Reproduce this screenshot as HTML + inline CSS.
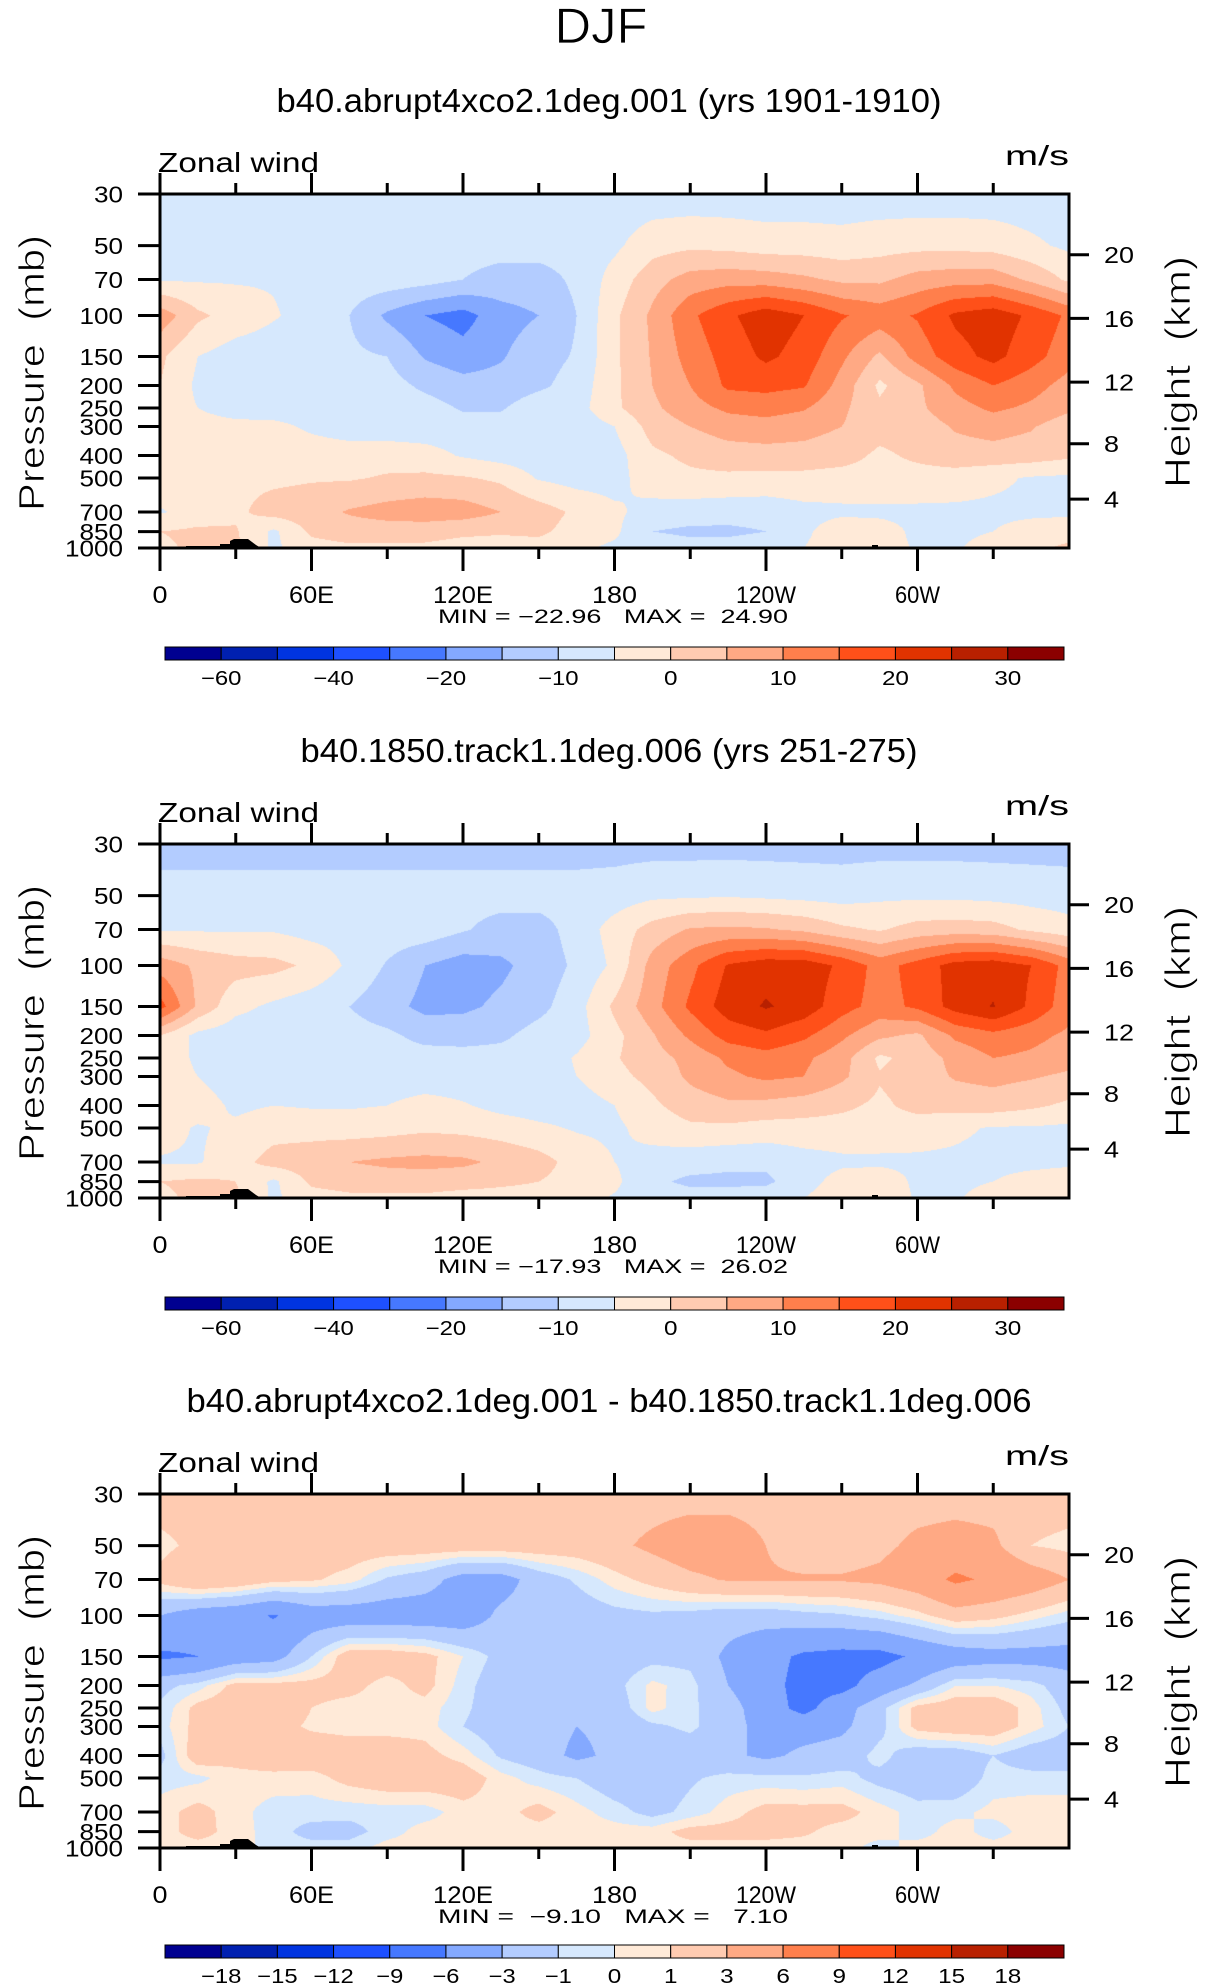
<!DOCTYPE html>
<html><head><meta charset="utf-8"><title>DJF Zonal wind</title>
<style>
html,body{margin:0;padding:0;background:#fff;}
#page{position:relative;width:1206px;height:1987px;overflow:hidden;background:#fff;}
canvas{position:absolute;}
svg{position:absolute;left:0;top:0;}
text{font-family:"Liberation Sans",sans-serif;fill:#000;white-space:pre;}
.thin{stroke:#fff;stroke-width:0.8px;paint-order:normal;}
</style></head>
<body>
<div id="page">
<svg id="ov" width="1206" height="1987">
 <text class="thin" x="601" y="43" font-size="50" text-anchor="middle" textLength="93" lengthAdjust="spacingAndGlyphs">DJF</text>
</svg>
</div>
<script>
// ---------- data ----------
const lonPoints=[0,15,30,45,60,75,90,105,120,135,150,165,180,195,210,225,240,255,270,285,300,315,330,345,360];
const pressureLevels=[30,50,70,100,150,200,250,300,400,500,700,850,1000];
const pressureTicks=[30,50,70,100,150,200,250,300,400,500,700,850,1000];
const heightTicks=[4,8,12,16,20];
const lonTicks=[0,30,60,90,120,150,180,210,240,270,300,330];
const lonLabels=['0','','60E','','120E','','180','','120W','','60W',''];
const fullLevels=[-60,-50,-40,-30,-20,-15,-10,-5,0,5,10,15,20,25,30];
const diffLevels=[-18,-15,-12,-9,-6,-3,-1,0,1,3,6,9,12,15,18];
const fullLabelIdx=[0,2,4,6,8,10,12,14];
const diffLabelIdx=[0,1,2,3,4,5,6,7,8,9,10,11,12,13,14];
const fillColors=['#000090','#0020B0','#0034E0','#1E50FF','#4678FF','#84A9FF','#B3CCFF','#D6E8FD','#FFEAD8','#FFCBB1','#FFA984','#FF7F4C','#FF5019','#E13300','#B82000','#8B0000'];
const panelTitles=['b40.abrupt4xco2.1deg.001 (yrs 1901-1910)','b40.1850.track1.1deg.006 (yrs 251-275)','b40.abrupt4xco2.1deg.001 - b40.1850.track1.1deg.006'];
const panelStats=['MIN = \u221222.96   MAX =  24.90','MIN = \u221217.93   MAX =  26.02','MIN =  \u22129.10   MAX =   7.10'];

const p1Values=[
[-8,-8,-8,-8,-8,-8,-8,-8,-8,-8,-8,-8,-8,-8,-8,-8,-8,-8,-8,-8,-8,-8,-8,-8,-8],
[-8,-8,-8,-8,-8,-8,-8,-8,-8,-8,-8,-8,-6,-2,-1,-1.5,-2.5,-2.5,-3,-2,-1.5,-1.5,-2,-4,-6],
[-5.5,-5.5,-5.5,-5.5,-7,-7,-7,-8,-10,-12,-12,-9,-3,3,7,8,7.5,6,4,4,7,8,8,4,-1],
[8,1,-2,-4.5,-7,-10,-16,-20,-22,-17,-15,-10,-1,6,14,19,23,20,15.5,13,15.5,21,23,19,14],
[1,-5,-7.5,-8,-8,-9,-10,-15.5,-18,-15.5,-12,-9.5,-1,5.5,12,17,21,18,11,4,12,18,21.5,17,12],
[0,-6,-8,-8,-8,-8,-8,-11,-13,-13,-11,-8,-1,5,10,16,16.5,15.5,8,-1,4,11,15,12,8],
[-2,-5,-8,-8,-8,-8,-8,-8,-10.5,-10.5,-7,-7,-1,4,8,11,12,10.5,6,1,4,8,11,9,6],
[-2,-2.5,-3,-3.5,-6,-8,-8,-8,-8,-8,-8,-8,-5,2,5,7.5,8,7,5,2,2.5,5.5,7,5.5,2],
[-2,-2,-2,-2,-2,-2,-2,-3,-5.5,-7,-8,-8,-7,-1,1,2.5,3,3,2,-1,1,3,3,2.5,1],
[-2,-2,-1,-1,-0.5,-0.5,0.5,1,0.5,-1,-5.5,-7,-7,-2,-1,-1,-1.5,-1.5,-2,-2,-2,-2.5,-4,-5.5,-6],
[-5.5,-3,-1,2,3,5.5,7,8,7.5,5,2.5,-1,-4,-7,-7.5,-8,-8,-6.5,-6,-6,-6,-6,-6,-6,-6],
[0,1,0.5,-6,1,2.5,2.5,2,1,0.5,1,-2,-4,-10,-11,-11,-10,-6,-2,-3,-6,-6,-5,-3,-2],
[-1,1,1,-6,-2,-1,-1,-1,-2,-2,-2,-4,-6,-7,-8,-8,-7,-5,-2,-3,-5.5,-5.5,-3,-1,1]
];
const p2Values=[
[-12,-12,-12,-12,-12,-12,-12,-12,-12,-12,-12,-12,-12,-12,-12,-12,-12,-12,-12,-12,-12,-12,-12,-12,-12],
[-8,-8,-8,-8,-8,-8,-8,-8,-8,-8,-8,-8,-7.5,-6,-5.8,-5.5,-6,-6.5,-7,-6,-6,-6,-6.5,-7,-7.5],
[-5.5,-5.5,-5.5,-5.5,-7,-7,-7,-7,-9.5,-12,-12,-8,-3,2,5.5,6,5.5,4,1,-0.5,2,2.5,2,-1,-3],
[8,4,2,1.5,-1,-6,-10.5,-15,-17.5,-16,-13,-9,-4,7,13.5,20.5,23,23,19,13,17,22,23,20,13],
[17,4,-3.5,-6,-8,-10,-13,-16.5,-16,-14,-11.5,-7,1,8,16,22.5,25.5,23,17,13,16,22,25.3,19,12],
[0,-6.5,-8,-8,-8,-8,-9,-11.5,-12,-11,-8,-7,-1.5,4.5,11,17,19,16,11,6,4,11,13.5,11.5,9],
[-1.5,-6,-8,-8,-8,-8,-8,-8,-8,-8,-8,-4.5,-0.5,3,6.5,11,13,11,7,-1,2,6.5,10,9,7],
[-2,-5,-8,-8,-8,-8,-8,-8,-8,-8,-8,-5,-1.5,1.5,6,9,11,10,6,0.5,2.5,5.5,6.5,5.5,4],
[-2,-2.5,-6,-5,-5.5,-5.5,-5,-3,-4.5,-6.5,-7.5,-7.5,-5,-1,2.5,4,3.5,2.5,1,-1,1.5,2,2.5,1,-1],
[-3,-5.5,-4,-2,-2,-2.5,-2,-1,-1.5,-2.5,-4,-5.5,-6,-3,-1,-1,-2,-2,-2,-2,-2.5,-4,-5.5,-5.5,-6],
[-5.5,-5.5,-2,2,3,5,6,6.5,6,4,2,-2,-5,-7,-8,-9,-9,-7,-6,-6,-6,-6,-6.5,-6.5,-6],
[0,1,0,-6,1,2,2.5,2.5,2,1,0,-2,-4,-9,-11,-11,-11,-7,-3,-2,-6,-6,-5,-3,-2],
[-1,1,1,-6,-2,-1,-1,-1,-2,-2,-2,-3,-5.5,-7,-8,-8,-7,-5,-2,-2,-5.5,-5.5,-3,-1,0]
];
const p3Values=[
[2,2,2,2,2,2,2,2,2,2,2,2,2,2,2,2,2,2,2,2,2,2,2,2,2],
[0.5,1.5,2,2,2,2,2,2,2,2,2,2,2.5,3.5,4.5,4.5,3,2,2,2.5,3.5,4,3.5,1,0.5],
[1.5,3,2.5,1.5,1.2,0.5,-1.2,-2,-4,-4,-2,-0.8,0.5,1.5,2.5,3.2,3.2,3.2,3.2,3.5,4.5,6.5,5.5,4.5,3],
[-3,-4.5,-5,-6.2,-4.5,-4.5,-4.5,-4.5,-4.5,-2.5,-2,-2,-1.5,-1.3,-1.5,-2,-2,-1.5,-1.2,-0.5,0.5,2,1.5,0.5,-0.5],
[-6.5,-6,-4.5,-4,-1,2,2,1.5,0,-1.5,-2,-2,-2,-1.5,-1.5,-3.5,-5,-6.5,-7,-7,-5.5,-4.5,-4,-4,-4],
[-1.5,-0.5,1.5,1.5,1.5,1.5,0.5,1.5,-0.5,-2,-2,-2,-1.5,0.3,-0.5,-3,-5,-7,-7,-4.5,-2.5,0,0,-0.5,-2],
[-0.8,1.5,2,2,1,0.5,0.5,0.5,-0.7,-2,-2,-2,-2,0.4,-0.7,-2,-4.5,-7,-4,-1.5,1.5,2,2,0.5,-1.5],
[-0.5,1.5,2,1.5,0.8,0.5,0.5,0.5,-1,-2,-2,-3,-2.5,-1.3,-0.7,-2,-4,-4,-3.5,-1.5,1.5,2,2,0.5,-1],
[-1.5,2,1.5,2,2,2,2,1.5,0.5,-1.2,-2,-3.5,-2.5,-2,-2,-2.5,-3.5,-2.5,-2,-0.5,-2,-2,-1,-2,-2],
[-0.5,-0.3,0.6,0.6,0.5,1.5,2,2,2,0.4,-0.5,-1,-2,-2,-1.2,-0.6,-0.6,-0.8,-0.5,-1.5,-2,-2.2,-0.5,-0.5,-0.5],
[0.5,1.5,0.4,-0.5,-0.5,-0.6,-0.5,-0.5,0.5,0.5,1.5,0.4,-0.5,-1.5,-0.6,0.5,1.5,1.5,1.5,0.5,-0.5,-0.3,0.3,0.5,0.5],
[0.5,1.5,0.5,-0.5,-1.5,-1.5,-0.5,0.5,0.5,0.5,0.5,0.5,0.5,0.5,1.5,1.5,1.5,1.2,0.5,0.5,-0.5,0.5,-0.5,0.5,0.5],
[0.5,0.5,0.5,-0.5,-0.5,-0.5,0.5,0.5,0.3,0.5,0.5,0.5,0.5,0.5,0.5,0.5,0.5,0.5,0.5,-0.5,0.5,0.5,0.5,0.5,0.5]
];

// ---------- layout ----------
const PL=160, PW=909, PH=354, PTOP=194, STEP=650;
const NS='http://www.w3.org/2000/svg';
const svg=document.getElementById('ov');
const page=document.getElementById('page');
function xLon(lon){return PL+PW*lon/360;}
function yP(p,top){return top+PH*Math.log(p/30)/Math.log(1000/30);}
function pFromZ(z){return z<=11?1013.25*Math.pow(1-0.0065*z*1000/288.15,5.2559):226.32*Math.exp(-(z-11)/6.3416);}
function mk(tag,attrs){const e=document.createElementNS(NS,tag);for(const k in attrs)e.setAttribute(k,attrs[k]);svg.appendChild(e);return e;}
function txt(s,x,y,size,anchor,len){const t=mk('text',{x:x,y:y,'font-size':size,'text-anchor':anchor||'start'});t.setAttributeNS('http://www.w3.org/XML/1998/namespace','xml:space','preserve');if(len){t.setAttribute('textLength',len);t.setAttribute('lengthAdjust','spacingAndGlyphs');}t.textContent=s;return t;}
function binOf(v,lv){let b=0;for(let i=0;i<lv.length;i++){if(v>=lv[i])b=i+1;}return b;}
function hex(c){return [parseInt(c.substr(1,2),16),parseInt(c.substr(3,2),16),parseInt(c.substr(5,2),16)];}
const rgb=fillColors.map(hex);

function drawField(values,levels,top,idx){
  const cv=document.createElement('canvas');
  cv.width=PW;cv.height=PH;
  cv.style.left=PL+'px';cv.style.top=top+'px';
  
  
  page.insertBefore(cv,svg);
  const ctx=cv.getContext('2d');const img=ctx.createImageData(PW,PH);
  const L0=Math.log(1000/30);const nc=lonPoints.length-1;
  for(let py=0;py<PH;py++){
    const p=30*Math.exp((py+0.5)/PH*L0);
    let k=0;while(k<pressureLevels.length-2&&p>pressureLevels[k+1])k++;
    const t=Math.log(p/pressureLevels[k])/Math.log(pressureLevels[k+1]/pressureLevels[k]);
    const r0=values[k],r1=values[k+1];
    for(let px=0;px<PW;px++){
      const lon=(px+0.5)/PW*360;
      let c=lon/(360/nc);let i=Math.min(Math.floor(c),nc-1);const f=c-i;
      const a=r0[i]*(1-f)+r0[i+1]*f, b=r1[i]*(1-f)+r1[i+1]*f;
      const v=a*(1-t)+b*t;
      const col=rgb[binOf(v,levels)];
      const o=(py*PW+px)*4;img.data[o]=col[0];img.data[o+1]=col[1];img.data[o+2]=col[2];img.data[o+3]=255;
    }
  }
  ctx.putImageData(img,0,0);
}

function drawPanel(idx,values,levels,labelIdx){
  const off=idx*STEP, top=PTOP+off, bot=top+PH;
  drawField(values,levels,top,idx);
  let e;
  e=txt(panelTitles[idx],609,112+off,33,'middle',idx==2?845:(idx==1?617:665));
  
  
  e=txt('Zonal wind',158,172+off,28,'start',161);
  
  
  e=txt('m/s',1069,165+off,28,'end',64);
  
  
  const topo=[[26,0],[26,-2],[60,-2],[60,-4],[70,-4],[70,-7],[74,-9],[88,-9],[92,-6],[96,-3],[101,0]];
  e=mk('polygon',{points:topo.map(q=>(PL+q[0])+','+(bot+q[1])).join(' '),fill:'#000'});
  
  
  const topo2=[[712,0],[712,-3],[718,-3],[718,-1.5],[781,-1.5],[781,0]];
  e=mk('polygon',{points:topo2.map(q=>(PL+q[0])+','+(bot+q[1])).join(' '),fill:'#000'});
  
  
  e=mk('rect',{x:PL,y:top,width:PW,height:PH,fill:'none',stroke:'#000','stroke-width':3});
  
  
  lonTicks.forEach((lon,i)=>{
    const x=xLon(lon),major=lon%60===0;
    e=mk('line',{x1:x,x2:x,y1:top,y2:top-(major?21:11),stroke:'#000','stroke-width':3});
    
    
    e=mk('line',{x1:x,x2:x,y1:bot,y2:bot+(major?23:11),stroke:'#000','stroke-width':3});
    
    
    if(lonLabels[i]){
      e=txt(lonLabels[i],x,603+off,24,'middle',lonLabels[i].length*15);
      
      
    }
  });
  pressureTicks.forEach(p=>{
    const y=yP(p,top);
    e=mk('line',{x1:PL-22,x2:PL,y1:y,y2:y,stroke:'#000','stroke-width':3});
    
    
    const s=String(p);
    e=txt(s,123,y+8.5,23,'end',s.length*14.5);
    
    
  });
  heightTicks.forEach(z=>{
    const y=yP(pFromZ(z),top);
    e=mk('line',{x1:PL+PW,x2:PL+PW+20,y1:y,y2:y,stroke:'#000','stroke-width':3});
    
    
    const s=String(z);
    e=txt(s,1104,y+8.5,23,'start',s.length*15);
    
    
  });
  e=txt('Pressure  (mb)',0,0,36,'middle',276);
  e.setAttribute('class','thin');
  e.setAttribute('transform','translate(44,'+(373+off)+') rotate(-90)');
  
  
  e=txt('Height  (km)',0,0,36,'middle',232);
  e.setAttribute('class','thin');
  e.setAttribute('transform','translate(1190,'+(372+off)+') rotate(-90)');
  
  
  e=txt(panelStats[idx],613,623+off,19,'middle',350);
  
  
  const cx=165,cw=899,cy=647+off-(idx==2?2:0),ch=13,bw=cw/fillColors.length;
  fillColors.forEach((c,i)=>{
    e=mk('rect',{x:cx+i*bw,y:cy,width:bw,height:ch,fill:c,stroke:'#000','stroke-width':1});
    
    
  });
  labelIdx.forEach(j=>{
    const v=levels[j];const s=(v<0?'\u2212'+(-v):String(v));
    e=txt(s,cx+(j+1)*bw,cy+38,20,'middle',s.length*13.5);
    
    
  });
}
drawPanel(0,p1Values,fullLevels,fullLabelIdx);
drawPanel(1,p2Values,fullLevels,fullLabelIdx);
drawPanel(2,p3Values,diffLevels,diffLabelIdx);
</script>
</body></html>
